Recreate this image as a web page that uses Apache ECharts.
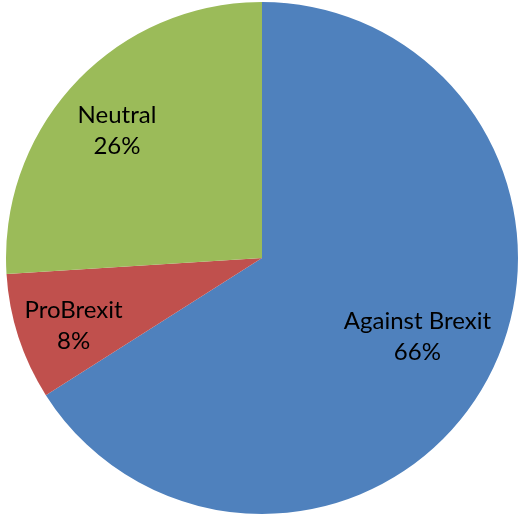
<!DOCTYPE html>
<html>
<head>
<meta charset="utf-8">
<script src="https://cdn.jsdelivr.net/npm/echarts@6/dist/echarts.min.js"></script>
<style>
  html, body { margin: 0; padding: 0; background: #fff; }
  #chart { width: 518px; height: 515px; }
</style>
</head>
<body>
<div id="chart"></div>
<script>
// Share of opinions on Brexit
const categories = ['Against Brexit', 'ProBrexit', 'Neutral'];
const shares = [66, 8, 26];
const sliceColors = ['#4F81BD', '#C0504D', '#9BBB59'];

// how far out along each slice's bisector its label sits (fraction of radius)
const labelRadiusRatio = [0.665, 0.765, 0.737];
// small counter-clockwise turn of every label around the centre (degrees)
const labelTurn = -1.9;

const CX = 262, CY = 258, R = 256;

const chart = echarts.init(document.getElementById('chart'), null, { renderer: 'canvas' });

chart.setOption({
  animation: false,
  series: [{
    type: 'pie',
    center: [CX, CY],
    radius: [0, R],
    startAngle: 90,
    clockwise: true,
    data: categories.map((name, i) => ({
      name,
      value: shares[i],
      itemStyle: { color: sliceColors[i] }
    })),
    itemStyle: { borderWidth: 0 },
    emphasis: { disabled: true },
    label: {
      show: true,
      position: 'inside',
      formatter: '{b}\n{d}%',
      color: '#000',
      fontFamily: 'Lato',
      fontSize: 24,
      lineHeight: 31,
      align: 'center'
    },
    labelLine: { show: false },
    labelLayout: function (p) {
      const r = p.labelRect;
      const lx = r.x + r.width / 2;
      const ly = r.y + r.height / 2;
      const scale = labelRadiusRatio[p.dataIndex] / 0.5;
      const a = labelTurn * Math.PI / 180;
      const vx = (lx - CX) * scale, vy = (ly - CY) * scale;
      const nx = vx * Math.cos(a) - vy * Math.sin(a);
      const ny = vx * Math.sin(a) + vy * Math.cos(a);
      return { dx: CX + nx - lx, dy: CY + ny - ly };
    }
  }]
});
</script>
</body>
</html>
